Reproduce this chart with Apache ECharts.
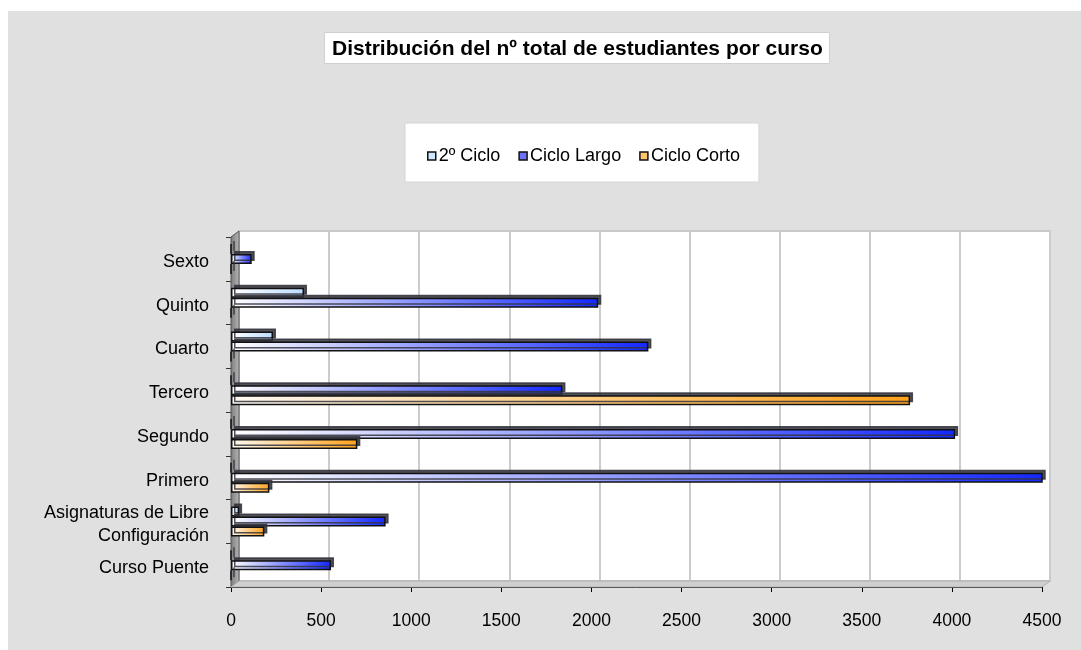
<!DOCTYPE html>
<html>
<head>
<meta charset="utf-8">
<script src="https://cdn.jsdelivr.net/npm/echarts@6/dist/echarts.min.js"></script>
<style>
html,body{margin:0;padding:0;background:#fff;}
#chart{width:1081px;height:650px;}
</style>
</head>
<body>
<div id="chart"></div>
<script>
// ---- data ----
var categories = ['Sexto', 'Quinto', 'Cuarto', 'Tercero', 'Segundo', 'Primero', 'Asignaturas de Libre\nConfiguración', 'Curso Puente'];
var seriesNames = ['2º Ciclo', 'Ciclo Largo', 'Ciclo Corto'];
var segundoCiclo = [0, 405, 233, 0, 0, 0, 45, 0];
var cicloLargo = [115, 2038, 2316, 1839, 4018, 4521, 858, 555];
var cicloCorto = [0, 0, 0, 3768, 701, 213, 185, 0];
var xTicks = ['0', '500', '1000', '1500', '2000', '2500', '3000', '3500', '4000', '4500'];

var chart = echarts.init(document.getElementById('chart'), null, {renderer: 'canvas'});
var FONT = '"Liberation Sans", Arial, sans-serif';

// front plane
var G = {left: 231, top: 237, right: 1042, bottom: 587};
// back wall offset
var D = {dx: 8, dy: -6};

function grad(c0, c1) {
  return new echarts.graphic.LinearGradient(0, 0, 1, 0, [
    {offset: 0, color: c0}, {offset: 1, color: c1}
  ]);
}
var fills = [grad('#ffffff', '#bcdcff'), grad('#ffffff', '#1428ff'), grad('#fffaf2', '#ffa21a')];
var legendColors = ['#cfe6ff', '#6f72ff', '#ffc46e'];
var dataArr = [segundoCiclo, cicloLargo, cicloCorto];

var series = seriesNames.map(function (n, i) {
  return {
    name: n,
    type: 'bar',
    xAxisIndex: 0,
    yAxisIndex: 0,
    data: dataArr[i],
    barWidth: 10,
    barGap: '0%',
    z: 3 + i,
    itemStyle: {
      color: fills[i],
      borderColor: '#111',
      borderWidth: 1.5,
      shadowColor: 'rgba(50,50,60,0.85)',
      shadowBlur: 0,
      shadowOffsetX: 3,
      shadowOffsetY: -3
    },
    emphasis: {disabled: true}
  };
});

series.push({type: 'bar', xAxisIndex: 1, yAxisIndex: 1, data: [], silent: true});

var option = {
  backgroundColor: '#e0e0e0',
  animation: false,
  title: {
    text: 'Distribución del nº total de estudiantes por curso',
    left: 324,
    top: 32,
    backgroundColor: '#ffffff',
    borderColor: '#d0d0d0',
    borderWidth: 1,
    padding: [7, 7, 4, 8],
    textStyle: {fontFamily: FONT, fontSize: 21, fontWeight: 'bold', color: '#000'}
  },
  legend: {
    data: seriesNames.map(function (n, i) {
      return {name: n, itemStyle: {color: legendColors[i], borderColor: '#111', borderWidth: 1.5}};
    }),
    left: 405,
    top: 123,
    backgroundColor: '#ffffff',
    borderColor: '#d6d6d6',
    borderWidth: 1,
    padding: [24, 19, 17, 22],
    itemWidth: 8,
    itemHeight: 8,
    itemGap: 18,
    icon: 'rect',
    textStyle: {fontFamily: FONT, fontSize: 18, color: '#000', padding: [0, 0, 0, -2]}
  },
  grid: [
    {left: G.left, top: G.top, width: G.right - G.left, height: G.bottom - G.top, containLabel: false},
    {left: G.left + D.dx, top: G.top + D.dy, width: G.right - G.left, height: G.bottom - G.top,
     show: true, backgroundColor: '#ffffff', borderColor: '#c8c8c8', borderWidth: 2, z: 0}
  ],
  xAxis: [
    {
      type: 'value', gridIndex: 0, min: 0, max: 4500, interval: 500,
      axisLine: {show: true, lineStyle: {color: '#000', width: 1}},
      axisTick: {show: true, length: 5, lineStyle: {color: '#000'}},
      splitLine: {show: false},
      axisLabel: {
        fontFamily: FONT, fontSize: 17.5, color: '#000', margin: 25,
        formatter: function (v) { return xTicks[Math.round(v / 500)]; }
      }
    },
    {
      type: 'value', gridIndex: 1, min: 0, max: 4500, interval: 500,
      axisLine: {show: false}, axisTick: {show: false}, axisLabel: {show: false},
      splitLine: {show: true, lineStyle: {color: '#cccccc', width: 2}}
    }
  ],
  yAxis: [
    {
      type: 'category', gridIndex: 0, data: categories, inverse: true,
      axisLine: {show: true, lineStyle: {color: '#333', width: 1}},
      axisTick: {show: true, length: 5, lineStyle: {color: '#333'}},
      axisLabel: {
        fontFamily: FONT, fontSize: 18, color: '#000', margin: 22,
        formatter: function (v) {
          return v.split('\n').map(function (l) { return '{a|' + l + '}'; }).join('\n');
        },
        rich: {a: {fontFamily: FONT, fontSize: 18, color: '#000', lineHeight: 23, padding: [6, 0, 0, 0]}}
      }
    },
    {
      type: 'value', gridIndex: 1, show: false
    }
  ],
  graphic: [
    {type: 'rect', shape: {x: 0, y: 0, width: 1081, height: 11}, style: {fill: '#ffffff'}, z: 100, silent: true},
    {type: 'rect', shape: {x: 0, y: 0, width: 8, height: 650}, style: {fill: '#ffffff'}, z: 100, silent: true},
    {type: 'polygon', shape: {points: [[G.left, G.top], [G.left + D.dx, G.top + D.dy], [G.left + D.dx, G.bottom + D.dy], [G.left, G.bottom]]},
     style: {fill: new echarts.graphic.LinearGradient(0, 0, 1, 0, [{offset: 0, color: '#7a7a7a'}, {offset: 1, color: '#b8b8b8'}]), stroke: '#555', lineWidth: 1}, z: 1, silent: true},
    {type: 'polygon', shape: {points: [[G.left, G.bottom], [G.left + D.dx, G.bottom + D.dy], [G.right + D.dx, G.bottom + D.dy], [G.right, G.bottom]]},
     style: {fill: '#cfcfcf', stroke: '#b0b0b0', lineWidth: 1}, z: 1, silent: true}
  ],
  series: series
};
chart.setOption(option);
</script>
</body>
</html>
